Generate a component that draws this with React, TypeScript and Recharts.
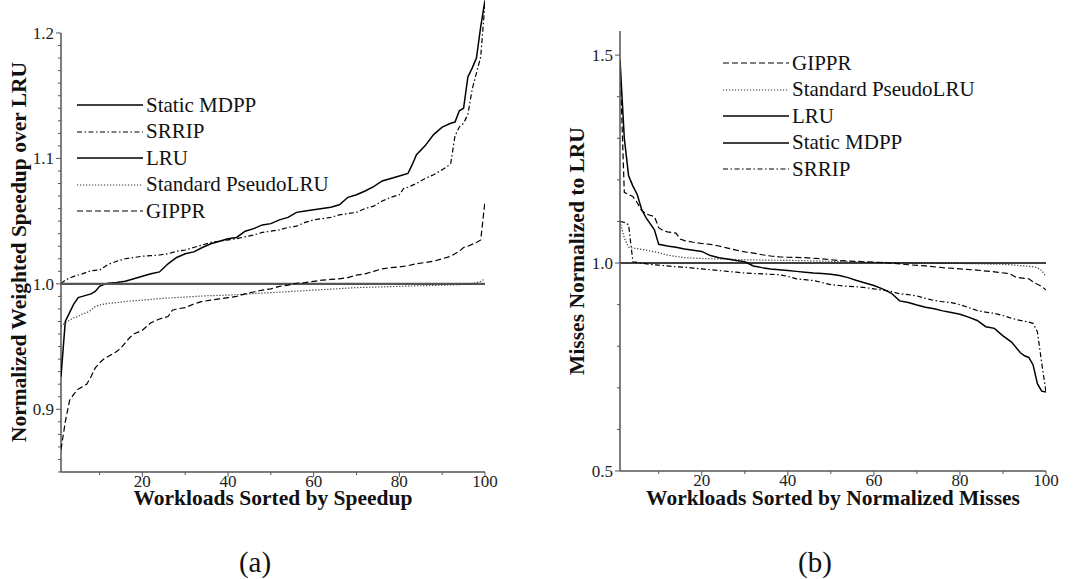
import React from 'react';
import { LineChart, Line, XAxis, YAxis, ReferenceLine, Legend } from 'recharts';

type Pt = [number, number];

// (a) weighted speedup normalized to LRU, workloads sorted by speedup
const speedupStatic: Pt[] = [
  [1, 0.926], [2, 0.97], [3, 0.977], [4, 0.984], [5, 0.989], [6, 0.99], [7, 0.991], [8, 0.992],
  [9, 0.994], [10, 0.998], [11, 0.9995], [12, 1.0005], [14, 1.001], [16, 1.002], [18, 1.004],
  [20, 1.006], [22, 1.008], [24, 1.0095], [26, 1.016], [28, 1.021], [30, 1.024], [32, 1.0255],
  [34, 1.029], [36, 1.032], [38, 1.034], [40, 1.036], [42, 1.037], [44, 1.042], [46, 1.044],
  [48, 1.047], [50, 1.048], [52, 1.051], [54, 1.053], [56, 1.057], [58, 1.058], [60, 1.059],
  [62, 1.06], [64, 1.061], [66, 1.063], [68, 1.069], [70, 1.071], [72, 1.074], [74, 1.0775],
  [76, 1.082], [78, 1.084], [80, 1.086], [82, 1.088], [83, 1.095], [84, 1.103], [86, 1.11],
  [88, 1.119], [90, 1.125], [92, 1.128], [93, 1.129], [94, 1.138], [95, 1.14], [96, 1.165],
  [97, 1.172], [98, 1.18], [99, 1.205], [100, 1.226],
];
const speedupSrrip: Pt[] = [
  [1, 1.0], [2, 1.003], [4, 1.006], [6, 1.008], [8, 1.0105], [10, 1.011], [12, 1.0155], [14, 1.018],
  [16, 1.02], [18, 1.021], [20, 1.022], [22, 1.0225], [24, 1.023], [26, 1.024], [28, 1.026],
  [30, 1.027], [32, 1.029], [34, 1.031], [36, 1.033], [38, 1.034], [40, 1.035], [42, 1.036],
  [44, 1.0375], [46, 1.039], [48, 1.041], [50, 1.042], [52, 1.043], [54, 1.045], [56, 1.046],
  [58, 1.049], [60, 1.051], [62, 1.052], [64, 1.053], [66, 1.055], [68, 1.056], [70, 1.057],
  [72, 1.06], [74, 1.062], [76, 1.066], [78, 1.069], [80, 1.071], [81, 1.076], [82, 1.077],
  [84, 1.08], [86, 1.084], [88, 1.087], [90, 1.091], [91, 1.093], [92, 1.096], [93, 1.118],
  [94, 1.125], [95, 1.128], [96, 1.135], [97, 1.155], [98, 1.168], [99, 1.181], [100, 1.224],
];
const speedupLru: Pt[] = [[1, 1.0], [100, 1.0]];
const speedupPlru: Pt[] = [
  [1, 0.966], [2, 0.969], [3, 0.971], [4, 0.973], [5, 0.974], [6, 0.976], [7, 0.977], [8, 0.979],
  [9, 0.982], [10, 0.983], [12, 0.9845], [14, 0.985], [16, 0.986], [18, 0.9865], [20, 0.987],
  [25, 0.9885], [30, 0.9895], [35, 0.9905], [40, 0.991], [45, 0.992], [50, 0.993], [55, 0.994],
  [60, 0.995], [65, 0.996], [70, 0.997], [75, 0.9975], [80, 0.998], [85, 0.9985], [90, 0.999],
  [95, 0.9995], [97, 1.0], [99, 1.002], [100, 1.004],
];
const speedupGippr: Pt[] = [
  [1, 0.868], [2, 0.89], [3, 0.907], [4, 0.912], [5, 0.916], [6, 0.918], [7, 0.92], [8, 0.926],
  [9, 0.933], [10, 0.937], [11, 0.94], [12, 0.942], [14, 0.946], [15, 0.949], [16, 0.953],
  [17, 0.957], [18, 0.96], [20, 0.963], [22, 0.969], [24, 0.972], [26, 0.974], [27, 0.979],
  [28, 0.98], [30, 0.981], [32, 0.984], [34, 0.986], [36, 0.987], [38, 0.988], [40, 0.989],
  [42, 0.99], [44, 0.992], [46, 0.9935], [48, 0.995], [50, 0.996], [52, 0.998], [54, 0.999],
  [56, 1.0005], [58, 1.001], [60, 1.002], [62, 1.003], [64, 1.0035], [66, 1.004], [68, 1.005],
  [70, 1.007], [72, 1.008], [74, 1.01], [76, 1.012], [78, 1.013], [80, 1.0135], [82, 1.0145],
  [84, 1.016], [86, 1.017], [88, 1.018], [90, 1.02], [92, 1.022], [94, 1.026], [95, 1.029],
  [96, 1.03], [98, 1.033], [99, 1.035], [100, 1.066],
];

// (b) misses normalized to LRU, workloads sorted by normalized misses
const missesGippr: Pt[] = [
  [1, 1.48], [2, 1.17], [3, 1.165], [4, 1.16], [5, 1.145], [6, 1.127], [7, 1.118], [8, 1.115],
  [9, 1.112], [10, 1.085], [11, 1.078], [12, 1.075], [14, 1.072], [15, 1.058], [16, 1.054],
  [18, 1.05], [20, 1.047], [22, 1.045], [24, 1.041], [26, 1.036], [28, 1.031], [30, 1.027],
  [32, 1.024], [34, 1.02], [36, 1.017], [38, 1.015], [40, 1.014], [44, 1.013], [48, 1.01],
  [52, 1.006], [56, 1.004], [60, 1.002], [64, 1.0], [68, 0.996], [72, 0.993], [76, 0.989],
  [80, 0.986], [84, 0.983], [88, 0.979], [91, 0.975], [92, 0.972], [93, 0.966], [95, 0.963],
  [96, 0.962], [97, 0.955], [98, 0.949], [99, 0.944], [100, 0.935],
];
const missesPlru: Pt[] = [
  [1, 1.1], [2, 1.06], [3, 1.038], [4, 1.036], [6, 1.033], [8, 1.029], [10, 1.025], [12, 1.019],
  [14, 1.016], [16, 1.013], [20, 1.011], [25, 1.0095], [30, 1.008], [35, 1.007], [40, 1.0065],
  [45, 1.0055], [50, 1.004], [55, 1.003], [60, 1.002], [65, 1.001], [70, 1.0], [75, 0.9995],
  [80, 0.999], [85, 0.998], [90, 0.997], [93, 0.995], [95, 0.993], [97, 0.991], [98, 0.989],
  [99, 0.982], [100, 0.968],
];
const missesLru: Pt[] = [[1, 1.0], [100, 1.0]];
const missesStatic: Pt[] = [
  [1, 1.49], [2, 1.3], [3, 1.21], [4, 1.185], [5, 1.165], [6, 1.13], [7, 1.11], [8, 1.095],
  [9, 1.08], [10, 1.045], [12, 1.041], [14, 1.038], [16, 1.034], [18, 1.031], [20, 1.028],
  [22, 1.018], [24, 1.013], [26, 1.01], [28, 1.006], [30, 1.003], [32, 0.993], [34, 0.989],
  [36, 0.986], [38, 0.984], [40, 0.982], [42, 0.98], [44, 0.978], [46, 0.976], [48, 0.975],
  [50, 0.973], [52, 0.97], [54, 0.965], [56, 0.958], [58, 0.952], [60, 0.946], [62, 0.938],
  [64, 0.928], [66, 0.909], [68, 0.905], [70, 0.899], [72, 0.894], [74, 0.89], [76, 0.885],
  [78, 0.881], [80, 0.877], [82, 0.87], [84, 0.862], [86, 0.847], [88, 0.843], [90, 0.825],
  [92, 0.81], [94, 0.785], [95, 0.777], [96, 0.773], [97, 0.755], [98, 0.71], [99, 0.692],
  [100, 0.69],
];
const missesSrrip: Pt[] = [
  [1, 1.1], [2, 1.098], [3, 1.092], [4, 1.003], [6, 1.0], [8, 0.997], [10, 0.995], [12, 0.993],
  [14, 0.991], [16, 0.99], [18, 0.988], [20, 0.986], [22, 0.984], [24, 0.982], [26, 0.98],
  [28, 0.978], [30, 0.976], [32, 0.975], [34, 0.974], [36, 0.973], [38, 0.972], [40, 0.968],
  [42, 0.962], [44, 0.96], [46, 0.958], [48, 0.953], [50, 0.948], [52, 0.946], [54, 0.944],
  [56, 0.943], [58, 0.941], [60, 0.938], [62, 0.935], [64, 0.932], [66, 0.926], [68, 0.924],
  [70, 0.921], [72, 0.915], [74, 0.91], [76, 0.907], [78, 0.905], [80, 0.9], [82, 0.893],
  [84, 0.886], [86, 0.882], [88, 0.879], [90, 0.874], [92, 0.867], [94, 0.862], [96, 0.858],
  [97, 0.855], [98, 0.835], [99, 0.76], [100, 0.69],
];

const speedupMajorY = [0.9, 1.0, 1.1, 1.2];
const missesMajorY = [0.5, 1.0, 1.5];
const workloadMajorX = [20, 40, 60, 80, 100];

const FONT = '"Liberation Serif", "Times New Roman", serif';

// tick positions (labels only on the major ones)
const speedupTicksY = Array.from({ length: 36 }, (_, i) => (85 + i) / 100);
const missesTicksY = Array.from({ length: 11 }, (_, i) => (5 + i) / 10);
const workloadTicksX = Array.from({ length: 10 }, (_, i) => (i + 1) * 10);

const STYLE: Record<string, { dash?: string; width: number; color: string }> = {
  'Static MDPP': { width: 1.5, color: '#000' },
  SRRIP: { dash: '5 2.5 1.5 2.5', width: 1.2, color: '#000' },
  LRU: { width: 1.5, color: '#000' },
  'Standard PseudoLRU': { dash: '1.2 1.8', width: 1.2, color: '#333' },
  GIPPR: { dash: '6 3', width: 1.2, color: '#000' },
};

const toRows = (pts: Pt[]) => pts.map(([x, y]) => ({ x, y }));

const isMajor = (majors: number[], v: number) => majors.some((m) => Math.abs(m - v) < 1e-6);

const makeYTick = (majors: number[]) => (props: any) => {
  const { x, y, payload } = props;
  const major = isMajor(majors, payload.value);
  return (
    <g>
      <line x1={x - (major ? 5 : 3)} x2={x} y1={y} y2={y} stroke="#555" />
      {major && (
        <text x={x - 7} y={y} dy="0.35em" textAnchor="end" fontSize={17} fontFamily={FONT} fill="#222">
          {payload.value.toFixed(1)}
        </text>
      )}
    </g>
  );
};

const XTick = (props: any) => {
  const { x, y, payload } = props;
  const major = workloadMajorX.includes(payload.value);
  return (
    <g>
      <line x1={x} x2={x} y1={y} y2={y + (major ? 5 : 3)} stroke="#555" />
      {major && (
        <text x={x} y={y + 15} textAnchor="middle" fontSize={17} fontFamily={FONT} fill="#222">
          {payload.value}
        </text>
      )}
    </g>
  );
};

const LegendBox = ({ items }: { items: string[] }) => (
  <div style={{ fontFamily: FONT, fontSize: 21, color: '#111' }}>
    {items.map((name) => (
      <div key={name} style={{ display: 'flex', alignItems: 'center', height: 26.5, whiteSpace: 'nowrap' }}>
        <svg width={66} height={10} style={{ marginRight: 3 }}>
          <line x1={0} x2={66} y1={5} y2={5} stroke={STYLE[name].color}
            strokeWidth={STYLE[name].width} strokeDasharray={STYLE[name].dash} />
        </svg>
        <span>{name}</span>
      </div>
    ))}
  </div>
);

const Title = ({ x, y, text, rotate, size = 21.5, bold = true }:
  { x: number; y: number; text: string; rotate?: boolean; size?: number; bold?: boolean }) => (
  <div style={{
    position: 'absolute', left: x, top: y, whiteSpace: 'nowrap', fontSize: size,
    fontWeight: bold ? 'bold' : 'normal', lineHeight: 0.7, color: '#111',
    transform: `translate(-50%, -50%)${rotate ? ' rotate(-90deg)' : ''}`,
  }}>
    {text}
  </div>
);

const speedupSeries: [string, Pt[]][] = [
  ['Static MDPP', speedupStatic],
  ['SRRIP', speedupSrrip],
  ['LRU', speedupLru],
  ['Standard PseudoLRU', speedupPlru],
  ['GIPPR', speedupGippr],
];
const missesSeries: [string, Pt[]][] = [
  ['GIPPR', missesGippr],
  ['Standard PseudoLRU', missesPlru],
  ['LRU', missesLru],
  ['Static MDPP', missesStatic],
  ['SRRIP', missesSrrip],
];

const App: React.FC = () => {
  return (
    <div style={{ position: 'absolute', left: 0, top: 0, width: 1078, height: 579, background: '#fff', fontFamily: FONT }}>
      {/* (a) speedup */}
      <div style={{ position: 'absolute', left: 0, top: 0 }}>
        <LineChart width={500} height={540} margin={{ top: 0, right: 15, bottom: 38, left: 0 }}>
          <XAxis type="number" dataKey="x" domain={[1, 100]} ticks={workloadTicksX} interval={0}
            tickSize={0} tickMargin={0} tickLine={false} tick={XTick} height={30}
            axisLine={{ stroke: '#555', strokeWidth: 1.5 }} allowDataOverflow />
          <YAxis type="number" dataKey="y" domain={[0.85, 1.2263]} ticks={speedupTicksY} interval={0}
            tickSize={0} tickMargin={0} tickLine={false} tick={makeYTick(speedupMajorY)} width={61}
            axisLine={false} allowDataOverflow />
          <ReferenceLine segment={[{ x: 1, y: 0.85 }, { x: 1, y: 1.2 }]} stroke="#555" strokeWidth={1.5} />
          {speedupSeries.map(([name, pts]) => (
            <Line key={name} name={name} data={toRows(pts)} dataKey="y" type="linear" dot={false}
              isAnimationActive={false}
              stroke={name === 'LRU' ? '#555' : STYLE[name].color}
              strokeWidth={name === 'LRU' ? 2.2 : STYLE[name].width}
              strokeDasharray={STYLE[name].dash} />
          ))}
          <Legend layout="vertical" align="center" verticalAlign="middle"
            wrapperStyle={{ left: 77, top: 92, width: 280 }}
            content={() => <LegendBox items={speedupSeries.map(([n]) => n)} />} />
        </LineChart>
      </div>

      {/* (b) misses */}
      <div style={{ position: 'absolute', left: 560, top: 0 }}>
        <LineChart width={500} height={540} margin={{ top: 31, right: 14, bottom: 39, left: 0 }}>
          <XAxis type="number" dataKey="x" domain={[1, 100]} ticks={workloadTicksX} interval={0}
            tickSize={0} tickMargin={0} tickLine={false} tick={XTick} height={30}
            axisLine={{ stroke: '#555', strokeWidth: 1.5 }} allowDataOverflow />
          <YAxis type="number" dataKey="y" domain={[0.5, 1.558]} ticks={missesTicksY} interval={0}
            tickSize={0} tickMargin={0} tickLine={false} tick={makeYTick(missesMajorY)} width={60}
            axisLine={{ stroke: '#555', strokeWidth: 1.5 }} allowDataOverflow />
          {missesSeries.map(([name, pts]) => (
            <Line key={name} name={name} data={toRows(pts)} dataKey="y" type="linear" dot={false}
              isAnimationActive={false} stroke={STYLE[name].color}
              strokeWidth={STYLE[name].width} strokeDasharray={STYLE[name].dash} />
          ))}
          <Legend layout="vertical" align="center" verticalAlign="middle"
            wrapperStyle={{ left: 163, top: 50, width: 280 }}
            content={() => <LegendBox items={missesSeries.map(([n]) => n)} />} />
        </LineChart>
      </div>

      <Title x={20} y={252} text="Normalized Weighted Speedup over LRU" rotate />
      <Title x={273} y={499} text="Workloads Sorted by Speedup" />
      <Title x={578} y={251} text="Misses Normalized to LRU" rotate />
      <Title x={833} y={499} text="Workloads Sorted by Normalized Misses" />
      <Title x={255} y={562} text="(a)" size={29} bold={false} />
      <Title x={815} y={562} text="(b)" size={29} bold={false} />
    </div>
  );
};

export default App;
